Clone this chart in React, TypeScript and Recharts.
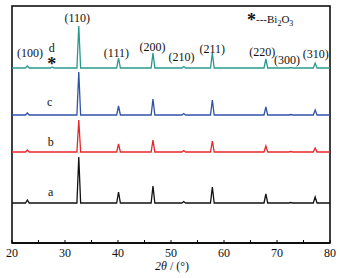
import React from 'react';
import {
  LineChart,
  Line,
  XAxis,
  YAxis,
  ReferenceArea,
  ReferenceDot,
} from 'recharts';

// peak positions (2θ) and heights (y in plot pixels)
const peakPos = [22.9, 27.6, 32.6, 40.1, 46.6, 52.4, 57.8, 67.9, 72.6, 77.2];
const heightsA = [3, 0, 46, 11, 17, 1.5, 16, 9, 0.5, 6];
const heightsB = [2, 0, 32, 8, 12, 1.5, 11, 6, 0.5, 4];
const heightsC = [2, 0, 43, 9, 16, 1.5, 15, 8, 0.5, 5];
const heightsD = [2, 1, 42, 10, 15, 1.5, 15, 9, 0.5, 5];
const baselines = [40, 91, 128, 175];
const sampleNames = ['a', 'b', 'c', 'd'];
const sampleColors = ['#111111', '#e8262a', '#2f52a8', '#289a8b'];
const sampleLabelX = [27.3, 27.3, 27.1, 27.5];
const sampleLabelY = [51, 101, 141, 195];

const hklLabels = ['(100)', '(110)', '(111)', '(200)', '(210)', '(211)', '(220)', '(300)', '(310)'];
const hklX = [23.4, 32.3, 39.7, 46.5, 52.0, 57.8, 67.2, 71.9, 77.3];
const hklY = [190, 225, 190, 196, 186, 194, 191, 183, 189];

const xTicks = [20, 25, 30, 35, 40, 45, 50, 55, 60, 65, 70, 75, 80];

const FONT = '"Liberation Serif", "DejaVu Serif", serif';

function buildTrace(base: number, heights: number[]) {
  const pts: { x: number; y: number }[] = [{ x: 20, y: base }];
  peakPos.forEach((p, i) => {
    if (heights[i] <= 0) return;
    pts.push({ x: p - 0.35, y: base });
    pts.push({ x: p, y: base + heights[i] });
    pts.push({ x: p + 0.35, y: base });
  });
  pts.push({ x: 80, y: base });
  return pts;
}

const traces = [heightsA, heightsB, heightsC, heightsD].map((h, i) => buildTrace(baselines[i], h));

const XTick = (props: any) => {
  const { x, y, payload } = props;
  const v = payload.value;
  return (
    <g>
      <line x1={x} x2={x} y1={y} y2={y - 3} stroke="#000" strokeWidth={1} />
      {v % 10 === 0 && (
        <text x={x} y={y + 14} textAnchor="middle" fontSize={12} fontFamily={FONT} fill="#111">
          {v}
        </text>
      )}
    </g>
  );
};

const textShape = (label: string, size = 12) => (p: any) => (
  <text x={p.cx} y={p.cy} dy="0.35em" textAnchor="middle" fontSize={size} fontFamily={FONT} fill="#111">
    {label}
  </text>
);

export default function App() {
  return (
    <div style={{ width: 340, height: 278, background: '#fff' }}>
      <style>{'body{margin:0}'}</style>
      <LineChart
        width={340}
        height={278}
        margin={{ top: 6, right: 10, bottom: 0, left: 12 }}
        style={{ overflow: 'visible' }}
      >
        <XAxis
          type="number"
          dataKey="x"
          domain={[20, 80]}
          ticks={xTicks}
          interval={0}
          height={35}
          tickSize={0}
          tickMargin={0}
          tickLine={false}
          tick={XTick}
          axisLine={{ stroke: '#000', strokeWidth: 1.5 }}
          label={({ viewBox }: any) => (
            <text
              x={viewBox.x + viewBox.width / 2 + 1}
              y={viewBox.y + 27}
              textAnchor="middle"
              fontSize={12}
              fontFamily={FONT}
              fill="#111"
            >
              <tspan fontStyle="italic">2θ</tspan>
              <tspan> / (°)</tspan>
            </text>
          )}
        />
        <YAxis type="number" domain={[0, 237]} hide width={0} />
        <ReferenceArea x1={20} x2={80} y1={0} y2={237} fill="none" stroke="#000" strokeWidth={1.5} ifOverflow="visible" />
        {traces.map((t, i) => (
          <Line
            key={sampleNames[i]}
            data={t}
            dataKey="y"
            type="linear"
            stroke={sampleColors[i]}
            strokeWidth={1.3}
            dot={false}
            isAnimationActive={false}
          />
        ))}
        {sampleNames.map((n, i) => (
          <ReferenceDot key={'s' + n} x={sampleLabelX[i]} y={sampleLabelY[i]} r={0} shape={textShape(n)} />
        ))}
        {hklLabels.map((l, i) => (
          <ReferenceDot key={l} x={hklX[i]} y={hklY[i]} r={0} shape={textShape(l)} />
        ))}
        <ReferenceDot
          x={27.5}
          y={182}
          r={0}
          shape={(p: any) => (
            <text x={p.cx} y={p.cy + 9} textAnchor="middle" fontSize={18} fontWeight="bold" fontFamily={FONT} fill="#111">
              *
            </text>
          )}
        />
        <ReferenceDot
          x={65.47}
          y={222}
          r={0}
          shape={(p: any) => (
            <text x={p.cx - 6} y={p.cy} dy="0.35em" fontSize={11} fontFamily={FONT} fill="#111">
              <tspan fontSize={18} fontWeight="bold" dy="0.3em">*</tspan>
              <tspan dy="-0.3em">---Bi</tspan>
              <tspan fontSize={8} dy="3">2</tspan>
              <tspan dy="-3">O</tspan>
              <tspan fontSize={8} dy="3">3</tspan>
            </text>
          )}
        />
      </LineChart>
    </div>
  );
}
